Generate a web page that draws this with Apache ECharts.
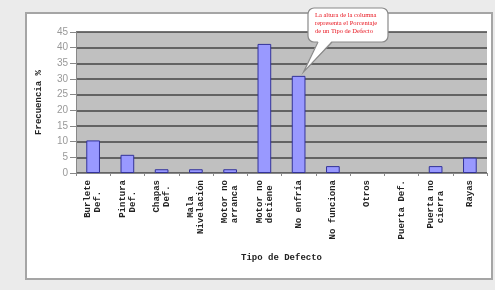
<!DOCTYPE html>
<html>
<head>
<meta charset="utf-8">
<script src="https://cdn.jsdelivr.net/npm/echarts@6/dist/echarts.min.js"></script>
<style>
  html, body { margin: 0; padding: 0; background: #ebebeb; }
  #chart { width: 495px; height: 290px; }
</style>
</head>
<body>
<div id="chart"></div>
<script>
// categorias (tipo de defecto) y frecuencias en %
const categorias = [
    'Burlete\nDef.', 'Pintura\nDef.', 'Chapas\nDef.', 'Mala\nNivelación',
    'Motor no\narranca', 'Motor no\ndetiene', 'No enfría', 'No funciona',
    'Otros', 'Puerta Def.', 'Puerta no\ncierra', 'Rayas'
];
const frecuencias = [10.4, 5.8, 1.2, 1.2, 1.2, 41.2, 31, 2.2, 0, 0, 2.2, 4.9];
const nota = ['La altura de la columna', 'representa el Porcentaje', 'de un Tipo de Defecto'];

// centrar las lineas del rotulo (fuente monoespaciada)
function centrarLineas(txt) {
    const lineas = txt.split('\n');
    const max = Math.max(...lineas.map(l => l.length));
    return lineas.map(l => {
        const d = max - l.length;
        return ' '.repeat(Math.floor(d / 2)) + l + ' '.repeat(Math.ceil(d / 2));
    }).join('\n');
}

const chart = echarts.init(document.getElementById('chart'));

const option = {
    backgroundColor: '#ebebeb',
    animation: false,
    grid: {
        left: 76, right: 8, top: 32, bottom: 117,
        show: true,
        backgroundColor: '#c0c0c0',
        borderWidth: 0
    },
    xAxis: {
        type: 'category',
        data: categorias,
        name: 'Tipo de Defecto',
        nameLocation: 'middle',
        nameGap: 80,
        nameTextStyle: { fontFamily: 'Liberation Mono', fontWeight: 'bold', fontSize: 9, color: '#222' },
        axisLine: { lineStyle: { color: '#888', width: 1 } },
        axisTick: { show: true, length: 3, lineStyle: { color: '#888' } },
        axisLabel: {
            rotate: 90,
            interval: 0,
            margin: 7,
            fontFamily: 'Liberation Mono',
            fontWeight: 'bold',
            fontSize: 9,
            lineHeight: 10,
            color: '#222',
            formatter: v => centrarLineas(v)
        }
    },
    yAxis: {
        type: 'value',
        min: 0, max: 45, interval: 5,
        name: 'Frecuencia %',
        nameLocation: 'middle',
        nameGap: 33,
        nameTextStyle: { fontFamily: 'Liberation Mono', fontWeight: 'bold', fontSize: 9, color: '#222' },
        axisLine: { show: true, lineStyle: { color: '#888' } },
        axisTick: { show: true, length: 6, lineStyle: { color: '#888' } },
        axisLabel: { color: '#999', fontSize: 10, margin: 8 },
        splitLine: { lineStyle: { color: '#444', width: 1.5 } }
    },
    series: [{
        type: 'bar',
        // sin borde para las columnas de valor 0
        data: frecuencias.map(v => v === 0 ? { value: v, itemStyle: { borderWidth: 0 } } : v),
        barWidth: '40%',
        itemStyle: { color: '#9999ff', borderColor: '#333399', borderWidth: 1 }
    }]
};
chart.setOption(option);

// panel blanco y nota (globo) apuntando a la columna "No enfría"
const punta = chart.convertToPixel({ gridIndex: 0 }, [6, frecuencias[6]]);
const tx = punta[0] + 5, ty = punta[1] - 4;
const bx = 308, by = 8, bw = 80, bh = 34;

chart.setOption({
    graphic: [
        {
            type: 'rect', z: -10, silent: true,
            shape: { x: 26, y: 13, width: 466, height: 266 },
            style: { fill: '#ffffff', stroke: '#a5a5a5', lineWidth: 2 }
        },
        {
            type: 'rect', z: 100,
            shape: { x: bx, y: by, width: bw, height: bh, r: 6 },
            style: { fill: '#ffffff', stroke: '#8a8a8a', lineWidth: 1.2 }
        },
        {
            type: 'polygon', z: 101,
            shape: { points: [[bx + 10, by + bh - 1], [tx, ty], [bx + 24, by + bh - 1]] },
            style: { fill: '#ffffff' }
        },
        {
            type: 'polyline', z: 102,
            shape: { points: [[bx + 10, by + bh], [tx, ty], [bx + 24, by + bh]] },
            style: { stroke: '#8a8a8a', lineWidth: 1.2, fill: null }
        },
        {
            type: 'text', z: 103,
            x: bx + 7, y: by + 3,
            style: {
                text: nota.join('\n'),
                fill: '#e8141e',
                font: '6.5px "Liberation Serif"',
                lineHeight: 8
            }
        }
    ]
});
</script>
</body>
</html>
